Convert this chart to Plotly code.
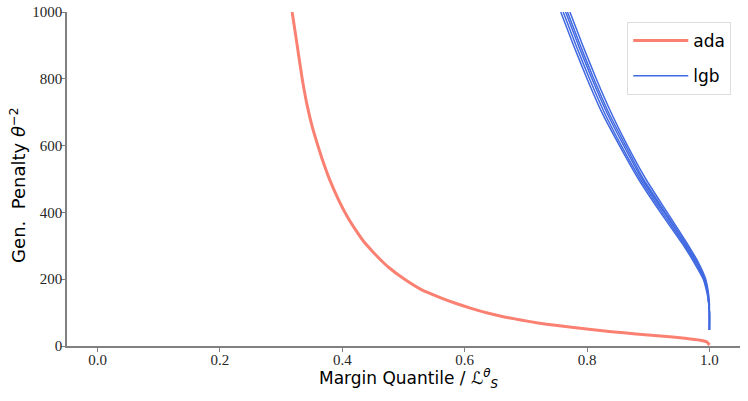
import plotly.graph_objects as go

# ada curve (margin quantile vs generalisation penalty)
ada_x = [0.318, 0.325, 0.334, 0.342, 0.351, 0.360, 0.367, 0.380, 0.394, 0.408, 0.422, 0.435,
         0.449, 0.462, 0.476, 0.500, 0.530, 0.560, 0.585, 0.612, 0.639, 0.665, 0.694, 0.720,
         0.748, 0.775, 0.803, 0.840, 0.880, 0.920, 0.960, 0.985, 0.996, 1.000]
ada_y = [1000, 915, 805, 725, 655, 600, 560, 495, 437, 388, 347, 313,
         284, 259, 235, 202, 168, 145, 128, 112, 98, 87, 77, 69,
         62, 56, 50, 43, 36, 30, 23, 17, 12, 3]

# lgb runs: penalty levels and the quantile at which each run reaches them
lgb_y = [1000, 900, 800, 700, 600, 500, 400, 300, 250, 200, 175, 150, 125, 100, 48]
lgb_run1 = [0.757, 0.778, 0.800, 0.824, 0.853, 0.884, 0.920, 0.958, 0.975, 0.990, 0.994, 0.997, 0.999, 1.000, 1.000]
lgb_run2 = [0.761, 0.782, 0.804, 0.828, 0.856, 0.887, 0.923, 0.960, 0.977, 0.991, 0.995, 0.998, 0.999, 1.000, 1.000]
lgb_run3 = [0.765, 0.786, 0.808, 0.832, 0.860, 0.890, 0.926, 0.962, 0.979, 0.992, 0.996, 0.998, 0.999, 1.000, 1.000]
lgb_run4 = [0.768, 0.789, 0.811, 0.835, 0.863, 0.892, 0.928, 0.964, 0.980, 0.993, 0.996, 0.998, 0.999, 1.000, 1.000]
lgb_run5 = [0.772, 0.793, 0.815, 0.839, 0.866, 0.896, 0.931, 0.966, 0.982, 0.994, 0.997, 0.999, 1.000, 1.000, 1.000]
lgb_runs = [lgb_run1, lgb_run2, lgb_run3, lgb_run4, lgb_run5]

x_ticks = [0.0, 0.2, 0.4, 0.6, 0.8, 1.0]
y_ticks = [0, 200, 400, 600, 800, 1000]

x_title = "Margin Quantile / <i>ℒ</i><sup><i>θ</i></sup><sub><i>S</i></sub>"
y_title = "Gen.&nbsp; Penalty <i>θ</i><sup>−2</sup>"

fig = go.Figure()
fig.add_trace(go.Scatter(x=ada_x, y=ada_y, mode="lines", name="ada",
                         line=dict(color="#FA8072", width=3, shape="spline", smoothing=0.4)))
for i, run in enumerate(lgb_runs):
    fig.add_trace(go.Scatter(x=run, y=lgb_y, mode="lines", name="lgb",
                             showlegend=(i == 0), legendgroup="lgb",
                             line=dict(color="#4169E1", width=1.5, shape="spline", smoothing=0.5)))

tick_font = dict(family="Liberation Serif", size=15, color="#262626")

fig.update_layout(
    width=748, height=401,
    margin=dict(l=67, r=8, t=12, b=55),
    plot_bgcolor="white", paper_bgcolor="white",
    showlegend=True,
    legend=dict(x=0.987, y=0.97, xanchor="right", yanchor="top", itemwidth=55,
                bordercolor="#dddddd", borderwidth=1, bgcolor="rgba(255,255,255,0.8)",
                font=dict(family="DejaVu Sans", size=17, color="#000000")),
    xaxis=dict(range=[-0.05, 1.05], tickvals=x_ticks, ticktext=[f"{v:.1f}" for v in x_ticks],
               showgrid=False, zeroline=False, showline=True, linecolor="#808080", linewidth=1.5,
               ticks="outside", ticklen=4, tickcolor="#808080", tickfont=tick_font,
               ticklabelstandoff=-5, ticklabeloverflow="allow", automargin=False),
    yaxis=dict(range=[0, 1000], tickvals=y_ticks,
               showgrid=False, zeroline=False, showline=True, linecolor="#808080", linewidth=1.5,
               ticks="outside", ticklen=4, tickcolor="#808080", tickfont=tick_font,
               ticklabelstandoff=-4, ticklabeloverflow="allow", automargin=False),
    annotations=[
        dict(text=x_title, xref="paper", yref="paper", x=0.507, y=-0.096,
             xanchor="center", yanchor="middle", showarrow=False,
             font=dict(family="DejaVu Sans", size=17, color="#000000")),
        dict(text=y_title, xref="paper", yref="paper", x=-0.073, y=0.482,
             xanchor="center", yanchor="middle", showarrow=False, textangle=-90,
             font=dict(family="DejaVu Sans", size=18, color="#000000")),
    ],
)

# remove the default 8px page margin so the figure fills the window exactly
fig.write_html("out.html", config={"displayModeBar": False},
               post_script="document.body.style.margin='0';")
